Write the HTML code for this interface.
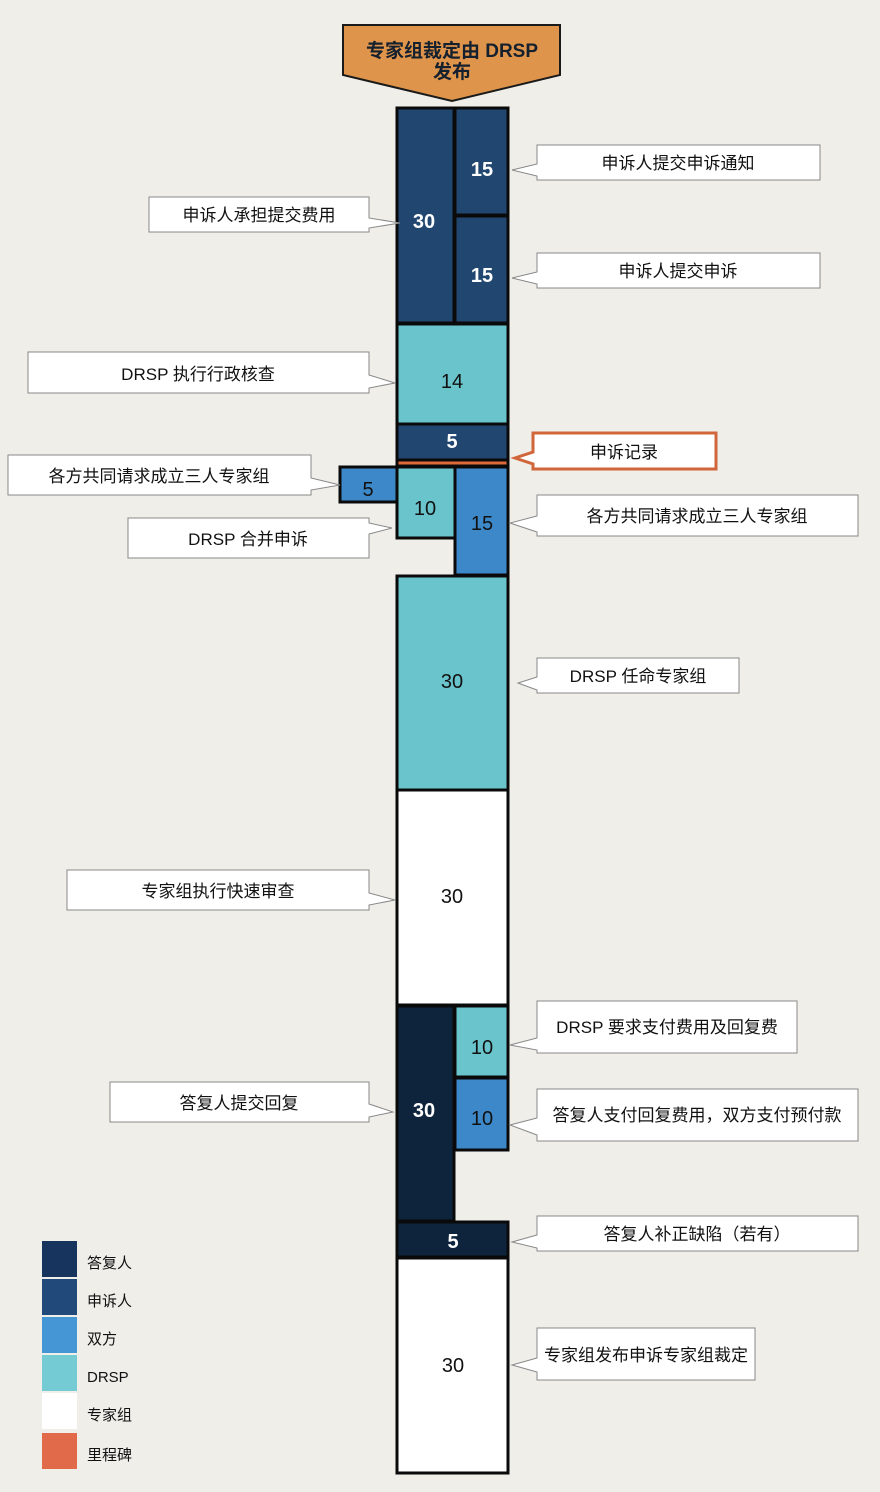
<!DOCTYPE html>
<html><head><meta charset="utf-8"><style>
body{margin:0;background:#efeee9;}
svg{display:block;font-family:"Liberation Sans","Noto Sans CJK SC",sans-serif;}
</style></head><body>
<svg width="880" height="1492" viewBox="0 0 880 1492" xmlns="http://www.w3.org/2000/svg">
<rect width="880" height="1492" fill="#efeee9"/>
<polygon points="343,25 560,25 560,75 452,101 343,75" fill="#de944a" stroke="#1a1a1a" stroke-width="2"/>
<text x="452" y="57" text-anchor="middle" font-size="19" font-weight="bold" fill="#15202e">专家组裁定由 DRSP</text>
<text x="452" y="78" text-anchor="middle" font-size="19" font-weight="bold" fill="#15202e">发布</text>
<g stroke="#0a0a0a" stroke-width="3">
<rect x="397" y="108" width="57" height="215" fill="#21466f"/>
<rect x="455" y="108" width="53" height="107" fill="#21466f"/>
<rect x="455" y="216" width="53" height="107" fill="#21466f"/>
<rect x="397" y="324" width="111" height="100" fill="#69c4cc"/>
<rect x="397" y="424" width="111" height="36" fill="#21466f"/>
<rect x="397" y="460" width="111" height="6" fill="#de6a3a"/>
<rect x="340" y="467" width="57" height="35" fill="#3d88c8"/>
<rect x="397" y="467" width="58" height="71" fill="#69c4cc"/>
<rect x="455" y="467" width="53" height="108" fill="#3d88c8"/>
<rect x="397" y="576" width="111" height="214" fill="#69c4cc"/>
<rect x="397" y="790" width="111" height="215" fill="#ffffff"/>
<rect x="397" y="1006" width="57" height="215" fill="#0e243d"/>
<rect x="455" y="1006" width="53" height="71" fill="#69c4cc"/>
<rect x="455" y="1078" width="53" height="72" fill="#3d88c8"/>
<rect x="397" y="1222" width="111" height="35" fill="#0e243d"/>
<rect x="397" y="1258" width="111" height="215" fill="#ffffff"/>
</g>
<g font-size="20" text-anchor="middle">
<g fill="#fff" font-weight="bold">
<text x="424" y="228">30</text>
<text x="482" y="176">15</text>
<text x="482" y="282">15</text>
<text x="452" y="448">5</text>
<text x="424" y="1117">30</text>
<text x="453" y="1248">5</text>
</g>
<g fill="#111">
<text x="452" y="388">14</text>
<text x="368" y="496">5</text>
<text x="425" y="515">10</text>
<text x="482" y="530">15</text>
<text x="452" y="688">30</text>
<text x="452" y="903">30</text>
<text x="482" y="1054">10</text>
<text x="482" y="1125">10</text>
<text x="453" y="1372">30</text>
</g>
</g>
<g fill="#fff" stroke="#888" stroke-width="1">
<polygon points="537,145 820,145 820,180 537,180 537,176 512,170 537,164"/>
<polygon points="537,253 820,253 820,288 537,288 537,284 512,278 537,272"/>
<polygon points="537,495 858,495 858,536 537,536 537,532 510,523 537,516"/>
<polygon points="537,658 739,658 739,693 537,693 537,690 518,683 537,677"/>
<polygon points="537,1001 797,1001 797,1053 537,1053 537,1050 510,1045 537,1038"/>
<polygon points="537,1089 858,1089 858,1141 537,1141 537,1135 510,1125 537,1118"/>
<polygon points="537,1216 858,1216 858,1251 537,1251 537,1248 512,1242 537,1235"/>
<polygon points="537,1328 755,1328 755,1380 537,1380 537,1372 512,1365 537,1358"/>
<polygon points="149,197 369,197 369,218 400,223 369,228 369,232 149,232"/>
<polygon points="28,352 369,352 369,375 395,383 369,388 369,393 28,393"/>
<polygon points="8,455 311,455 311,478 340,485 311,490 311,495 8,495"/>
<polygon points="128,518 369,518 369,523 392,528 369,534 369,558 128,558"/>
<polygon points="67,870 369,870 369,893 395,900 369,905 369,910 67,910"/>
<polygon points="110,1082 369,1082 369,1104 393,1112 369,1117 369,1122 110,1122"/>
</g>
<polygon points="533,433 716,433 716,469 533,469 533,464 515,458 533,452" fill="#fff" stroke="#d0663a" stroke-width="3"/>
<g font-size="17" fill="#111" text-anchor="middle">
<text x="678" y="169">申诉人提交申诉通知</text>
<text x="678" y="277">申诉人提交申诉</text>
<text x="624" y="458">申诉记录</text>
<text x="697" y="522">各方共同请求成立三人专家组</text>
<text x="638" y="682">DRSP 任命专家组</text>
<text x="667" y="1033">DRSP 要求支付费用及回复费</text>
<text x="697" y="1121">答复人支付回复费用，双方支付预付款</text>
<text x="697" y="1240">答复人补正缺陷（若有）</text>
<text x="646" y="1361">专家组发布申诉专家组裁定</text>
<text x="259" y="221">申诉人承担提交费用</text>
<text x="198" y="380">DRSP 执行行政核查</text>
<text x="159" y="482">各方共同请求成立三人专家组</text>
<text x="248" y="545">DRSP 合并申诉</text>
<text x="218" y="897">专家组执行快速审查</text>
<text x="239" y="1109">答复人提交回复</text>
</g>
<rect x="42" y="1241" width="35" height="36" fill="#16345d"/>
<rect x="42" y="1279" width="35" height="36" fill="#21497a"/>
<rect x="42" y="1317" width="35" height="36" fill="#4496d5"/>
<rect x="42" y="1355" width="35" height="36" fill="#74cbd3"/>
<rect x="42" y="1393" width="35" height="36" fill="#ffffff"/>
<rect x="42" y="1433" width="35" height="36" fill="#e06a4a"/>
<g font-size="15" fill="#111">
<text x="87" y="1268">答复人</text>
<text x="87" y="1306">申诉人</text>
<text x="87" y="1344">双方</text>
<text x="87" y="1382">DRSP</text>
<text x="87" y="1420">专家组</text>
<text x="87" y="1460">里程碑</text>
</g>
</svg>
</body></html>
